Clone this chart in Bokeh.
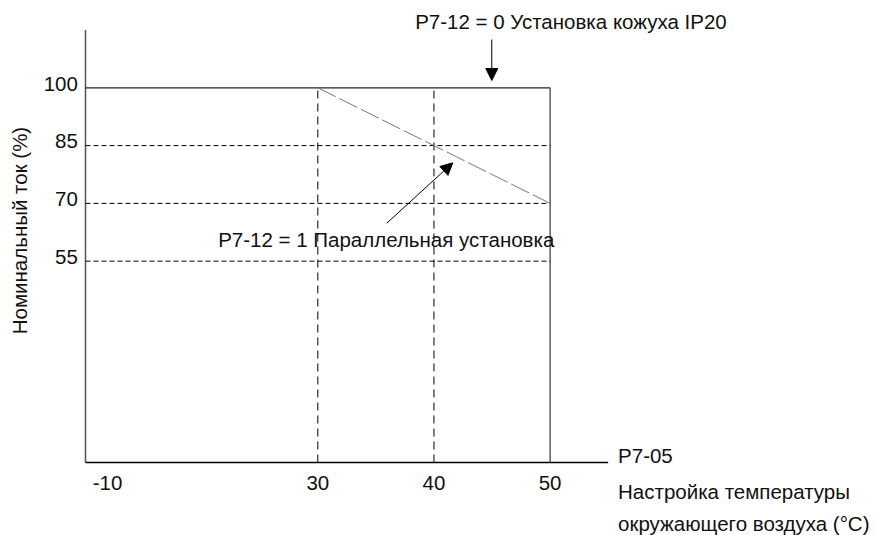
import math
from bokeh.plotting import figure, ColumnDataSource
from bokeh.models import Range1d, Arrow, NormalHead
from bokeh.core.properties import value
from bokeh.embed import file_html
from bokeh.resources import INLINE

# ---- data ----
x_ticks = [11.9, 30, 40, 50]              # "-10" sits just right of the origin (broken axis)
x_tick_labels = ["-10", "30", "40", "50"]
y_ticks = [100, 85, 70, 55]
y_tick_labels = ["100", "85", "70", "55"]
grid_temps = [30, 40]                    # dashed verticals
grid_currents = [85, 70, 55]             # dashed horizontals
max_temp = 50
max_current = 100
derate_temp = [30, 50]                   # P7-12 = 1 derating line
derate_current = [100, 70]

# axis extents (data units)
AX_X0, AX_X1 = 10, 55
AX_Y0, AX_Y1 = 2.75, 115

# annotation texts
top_note = "P7-12 = 0 Установка кожуха IP20"
mid_note = "P7-12 = 1 Параллельная установка"
x_title = ["P7-05", "Настройка температуры", "окружающего воздуха (°C)"]
y_title = "Номинальный ток (%)"

FONT = "Liberation Sans"
FS = "20.5px"
TXT = "#111111"

W, H = 877, 535
p = figure(width=W, height=H,
           x_range=Range1d(2.682, 78.187), y_range=Range1d(-16.2, 122.66),
           x_axis_type=None, y_axis_type=None,
           min_border=0, min_border_left=0, min_border_right=0,
           min_border_top=0, min_border_bottom=0,
           output_backend="svg", toolbar_location=None)
p.outline_line_color = None
p.xgrid.visible = False
p.ygrid.visible = False
p.background_fill_color = "white"
p.border_fill_color = "white"

# axis lines
p.line([AX_X0, AX_X0], [AX_Y0, AX_Y1], line_color="#555555", line_width=1.5)
p.line([AX_X0, AX_X1], [AX_Y0, AX_Y0], line_color="black", line_width=1.5)

# solid limit lines (100 % and 50 °C)
p.line([AX_X0, max_temp], [max_current, max_current], line_color="#222222", line_width=1.3)
p.line([max_temp, max_temp], [AX_Y0, max_current], line_color="#444444", line_width=1.3)

# dashed grid
for c in grid_currents:
    p.line([AX_X0, max_temp], [c, c], line_color="black", line_width=1, line_dash="5 3")
for t in grid_temps:
    p.line([t, t], [AX_Y0, max_current], line_color="black", line_width=1, line_dash="8 5")

# derating line
p.line(derate_temp, derate_current, line_color="#777777", line_width=1, line_dash="20 4")

# tick labels (positioned through the data scales)
xt = ColumnDataSource(dict(x=x_ticks, y=[AX_Y0 - 5.2] * len(x_ticks), t=x_tick_labels))
p.text(x="x", y="y", text="t", source=xt, text_align="center", text_baseline="middle",
       text_font=value(FONT), text_font_size=value(FS), text_color=TXT)
yt = ColumnDataSource(dict(x=[AX_X0 - 0.66] * len(y_ticks), y=[v + 1.1 for v in y_ticks],
                           t=y_tick_labels))
p.text(x="x", y="y", text="t", source=yt, text_align="right", text_baseline="middle",
       text_font=value(FONT), text_font_size=value(FS), text_color=TXT)

def txt(s, x, y, align="left", baseline="middle", angle=0.0):
    p.text(x=[x], y=[y], text=[s], text_align=align, text_baseline=baseline, angle=angle,
           text_font=value(FONT), text_font_size=value(FS), text_color=TXT)

txt(top_note, 38.38, 117.3)
txt(mid_note, 21.42, 60.5)
txt(x_title[0], 55.85, 4.6)
txt(x_title[1], 55.85, -4.9)
txt(x_title[2], 55.85, -13.2)
txt(y_title, 4.36, 62.96, align="center", angle=math.pi / 2)

# arrows
p.add_layout(Arrow(end=NormalHead(size=12, fill_color="black", line_color="black"),
                   x_start=44.98, y_start=112.54, x_end=44.98, y_end=101.9,
                   line_color="black", line_width=1))
p.add_layout(Arrow(end=NormalHead(size=12, fill_color="black", line_color="black"),
                   x_start=35.94, y_start=64.86, x_end=41.62, y_end=80.53,
                   line_color="black", line_width=1))

open("out.html", "w").write(file_html(p, INLINE))
